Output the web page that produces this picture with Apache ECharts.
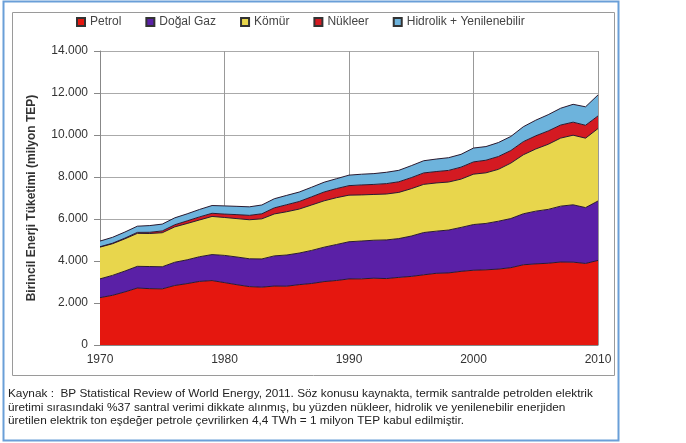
<!DOCTYPE html>
<html>
<head>
<meta charset="utf-8">
<script src="https://cdn.jsdelivr.net/npm/echarts@6/dist/echarts.min.js"></script>
<style>
html,body{margin:0;padding:0;background:#fff;}
#c{width:686px;height:443px;}
</style>
</head>
<body>
<div id="c"></div>
<script>
var years = [];
for (var y = 1970; y <= 2010; y++) years.push(String(y));

var seriesNames = ['Petrol', 'Doğal Gaz', 'Kömür', 'Nükleer', 'Hidrolik + Yenilenebilir'];

var petrol = [2254,2366,2528,2713,2683,2673,2833,2924,3029,3068,2971,2870,2780,2755,2807,2801,2874,2929,3020,3072,3147,3149,3181,3163,3219,3266,3342,3413,3433,3507,3560,3580,3615,3682,3820,3863,3893,3951,3945,3882,4028];
var dogalGaz = [895,948,993,1033,1053,1053,1107,1133,1175,1238,1296,1320,1326,1343,1437,1484,1504,1575,1638,1714,1769,1803,1808,1841,1848,1922,2013,2007,2041,2092,2176,2208,2280,2340,2428,2511,2565,2661,2731,2661,2830];
var komur = [1512,1507,1535,1570,1573,1620,1684,1729,1752,1816,1806,1828,1858,1910,1996,2061,2095,2164,2208,2229,2220,2195,2180,2185,2200,2255,2294,2296,2287,2300,2399,2410,2470,2640,2810,2960,3100,3240,3315,3306,3450];
var nukleer = [18,25,33,46,58,86,100,125,145,150,161,190,210,240,290,335,360,390,420,435,453,475,478,495,505,526,545,543,553,571,584,601,611,599,625,627,635,622,620,614,600];
var hidrolik = [270,280,290,295,320,325,330,335,355,370,390,395,405,420,435,445,450,455,465,470,500,510,515,540,545,570,580,595,605,610,660,650,665,670,710,745,775,800,850,880,1000];

var yTicks = [0,2000,4000,6000,8000,10000,12000,14000];

var captionLines = [
  'Kaynak :  BP Statistical Review of World Energy, 2011. Söz konusu kaynakta, termik santralde petrolden elektrik',
  'üretimi sırasındaki %37 santral verimi dikkate alınmış, bu yüzden nükleer, hidrolik ve yenilenebilir enerjiden',
  'üretilen elektrik ton eşdeğer petrole çevrilirken 4,4 TWh = 1 milyon TEP kabul edilmiştir.'
];

var fills = ['#e5170f', '#5a20a6', '#e8d64c', '#d41a22', '#6db3dc'];
var datas = [petrol, dogalGaz, komur, nukleer, hidrolik];

var series = datas.map(function (d, i) {
  return {
    name: seriesNames[i],
    type: 'line',
    stack: 'total',
    data: d,
    showSymbol: false,
    symbol: 'none',
    itemStyle: { color: fills[i], borderColor: '#333', borderWidth: 1 },
    lineStyle: { color: '#2a1a30', width: 1 },
    areaStyle: { color: fills[i], opacity: 1 },
    emphasis: { disabled: true }
  };
});

var graphics = [
  { type: 'rect', shape: { x: 3.5, y: 1.5, width: 615, height: 439 }, style: { fill: 'none', stroke: '#6a9fd8', lineWidth: 2 }, silent: true },
  { type: 'rect', shape: { x: 12.5, y: 12.5, width: 602, height: 363 }, style: { fill: 'none', stroke: '#9a9a9a', lineWidth: 1 }, silent: true }
];
captionLines.forEach(function (t, i) {
  graphics.push({
    type: 'text', left: 8, top: 388 + i * 13.5,
    style: { text: t, fill: '#222', font: '11.8px "Liberation Sans", Arial, sans-serif' },
    silent: true
  });
});

var chart = echarts.init(document.getElementById('c'), null, { renderer: 'canvas' });
chart.setOption({
  animation: false,
  backgroundColor: '#fff',
  legend: {
    data: seriesNames,
    left: 71, top: 11,
    icon: 'rect', itemWidth: 8, itemHeight: 8, itemGap: 24,
    textStyle: { fontFamily: 'Liberation Sans', fontSize: 12, color: '#444' }
  },
  grid: { left: 100, right: 88, top: 51, bottom: 98 },
  xAxis: {
    type: 'category',
    data: years,
    boundaryGap: false,
    axisLine: { lineStyle: { color: '#888' } },
    axisTick: { show: false },
    axisLabel: { interval: 9, color: '#333', fontFamily: 'Liberation Sans', fontSize: 12, margin: 9 },
    splitLine: { show: true, interval: 9, lineStyle: { color: '#999', width: 1 } }
  },
  yAxis: {
    type: 'value',
    min: 0, max: 14000, interval: 2000,
    name: 'Birincil Enerji Tüketimi (milyon TEP)',
    nameLocation: 'middle', nameGap: 62,
    nameTextStyle: { fontFamily: 'Liberation Sans', fontSize: 12, fontWeight: 'bold', color: '#333' },
    axisLine: { show: true, lineStyle: { color: '#888' } },
    axisTick: { show: true, length: 6, lineStyle: { color: '#888' } },
    axisLabel: {
      color: '#333', fontFamily: 'Liberation Sans', fontSize: 12, margin: 12,
      formatter: function (v) { return String(v).replace(/\B(?=(\d{3})+(?!\d))/g, '.'); }
    },
    splitLine: { lineStyle: { color: '#aaa', width: 1 } }
  },
  series: series,
  graphic: graphics
});
</script>
</body>
</html>
